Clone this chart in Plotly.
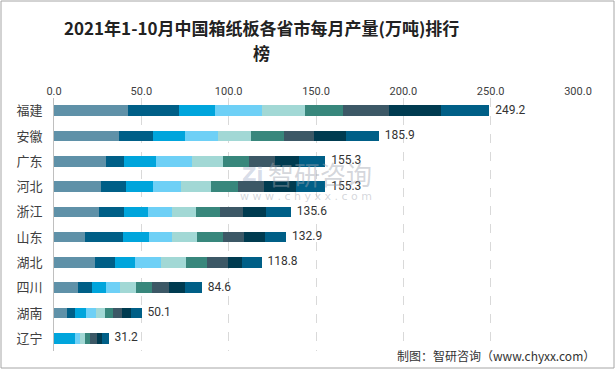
import plotly.graph_objects as go

provinces = ["福建", "安徽", "广东", "河北", "浙江", "山东", "湖北", "四川", "湖南", "辽宁"]
months = ["1-2月", "3月", "4月", "5月", "6月", "7月", "8月", "9月", "10月"]
totals = [249.2, 185.9, 155.3, 155.3, 135.6, 132.9, 118.8, 84.6, 50.1, 31.2]

m_1_2 = [42.6, 37.4, 29.8, 27.1, 26.0, 18.0, 23.7, 13.5, 7.2, 0.0]
m_3 = [29.0, 19.4, 10.2, 14.2, 14.0, 21.6, 11.4, 8.5, 5.1, 0.0]
m_4 = [20.5, 18.2, 18.4, 15.4, 13.9, 14.8, 11.4, 8.0, 6.3, 11.8]
m_5 = [26.8, 18.8, 20.5, 15.9, 13.7, 13.1, 14.8, 8.0, 5.7, 2.8]
m_6 = [25.0, 18.8, 17.8, 17.1, 13.7, 14.2, 14.2, 9.1, 5.1, 3.4]
m_7 = [21.3, 19.0, 15.2, 15.6, 13.7, 14.8, 12.0, 9.1, 4.6, 2.8]
m_8 = [26.6, 17.5, 14.8, 14.8, 13.4, 12.5, 12.0, 9.7, 5.1, 4.0]
m_9 = [29.6, 18.0, 13.7, 18.5, 13.2, 12.0, 8.0, 9.1, 5.1, 2.8]
m_10 = [27.8, 18.8, 14.9, 16.7, 14.0, 11.9, 11.3, 9.6, 5.9, 3.6]

series = [m_1_2, m_3, m_4, m_5, m_6, m_7, m_8, m_9, m_10]
colors = ["#5f91a8", "#005f87", "#00a5dc", "#6ed0f6", "#a2d8d5",
          "#38877c", "#3c5866", "#003b50", "#005f87"]

fig = go.Figure()
for name, vals, c in zip(months, series, colors):
    fig.add_trace(go.Bar(
        y=provinces, x=vals, name=name, orientation="h",
        marker=dict(color=c, line=dict(width=0)),
        showlegend=False,
    ))

fig.add_trace(go.Scatter(
    y=provinces, x=totals, mode="text",
    text=[f"  {v:.1f}" for v in totals],
    textposition="middle right",
    textfont=dict(family="Roboto, Noto Sans, sans-serif", size=12, color="#333333"),
    showlegend=False, hoverinfo="skip", cliponaxis=False,
))

L, R, T, B = 54, 38, 98, 19
W, H = 616, 370
pw, ph = W - L - R, H - T - B

def px(x):
    return (x - L) / pw

def py(y):
    return (H - B - y) / ph

wm = "rgba(160,165,175,0.45)"
title_font = dict(family="Noto Sans CJK SC, sans-serif", size=17, color="#222222", weight="bold")

fig.update_layout(
    width=W, height=H,
    margin=dict(l=L, r=R, t=T, b=B, autoexpand=False),
    barmode="stack",
    bargap=0.58,
    plot_bgcolor="white",
    paper_bgcolor="white",
    font=dict(family="Noto Sans CJK SC, sans-serif", color="#404040"),
    xaxis=dict(
        range=[0, 300], side="top", tickvals=[0, 50, 100, 150, 200, 250, 300],
        tickformat=".1f", showgrid=True, gridcolor="#d9d9d9", griddash="dash",
        gridwidth=1, zeroline=False, showline=False, ticks="", automargin=False,
        tickfont=dict(family="Roboto, Noto Sans, sans-serif", size=11, color="#404040"),
        fixedrange=True,
    ),
    yaxis=dict(
        autorange="reversed", showgrid=False, zeroline=False, automargin=False,
        showline=True, linecolor="#bfbfbf", linewidth=1, ticks="",
        ticklabelstandoff=8,
        tickfont=dict(family="Noto Sans CJK SC, sans-serif", size=13, color="#404040"),
    ),
    shapes=[dict(
        type="rect", xref="paper", yref="paper",
        x0=px(1), x1=px(614), y0=py(368), y1=py(1),
        line=dict(color="#a6a6a6", width=1), fillcolor="rgba(0,0,0,0)", layer="above",
    )],
    annotations=[
        dict(text="2021年1-10月中国箱纸板各省市每月产量(万吨)排行", xref="paper", yref="paper",
             x=px(261), y=py(27), xanchor="center", yanchor="middle", showarrow=False,
             font=title_font),
        dict(text="榜", xref="paper", yref="paper",
             x=px(261), y=py(53), xanchor="center", yanchor="middle", showarrow=False,
             font=title_font),
        dict(text="制图：智研咨询（www.chyxx.com）", xref="paper", yref="paper",
             x=px(597), y=py(355), xanchor="right", yanchor="middle", showarrow=False,
             font=dict(family="Noto Sans CJK SC, sans-serif", size=12, color="#333333")),
        dict(text="智研咨询", xref="paper", yref="paper",
             x=px(266), y=py(173), xanchor="left", yanchor="middle", showarrow=False,
             font=dict(family="Noto Sans CJK SC, sans-serif", size=26, color=wm)),
        dict(text="w w w . c h y x x . c o m", xref="paper", yref="paper",
             x=px(238), y=py(196), xanchor="left", yanchor="middle", showarrow=False,
             font=dict(family="DejaVu Sans, sans-serif", size=11, color=wm)),
        dict(text="<b>Zi</b>", xref="paper", yref="paper",
             x=px(240), y=py(174), xanchor="left", yanchor="middle", showarrow=False,
             font=dict(family="DejaVu Sans, sans-serif", size=20, color="rgba(120,140,180,0.3)")),
    ],
)

fig.write_html("out.html", config={"displayModeBar": False},
               post_script="document.body.style.margin='0';")
